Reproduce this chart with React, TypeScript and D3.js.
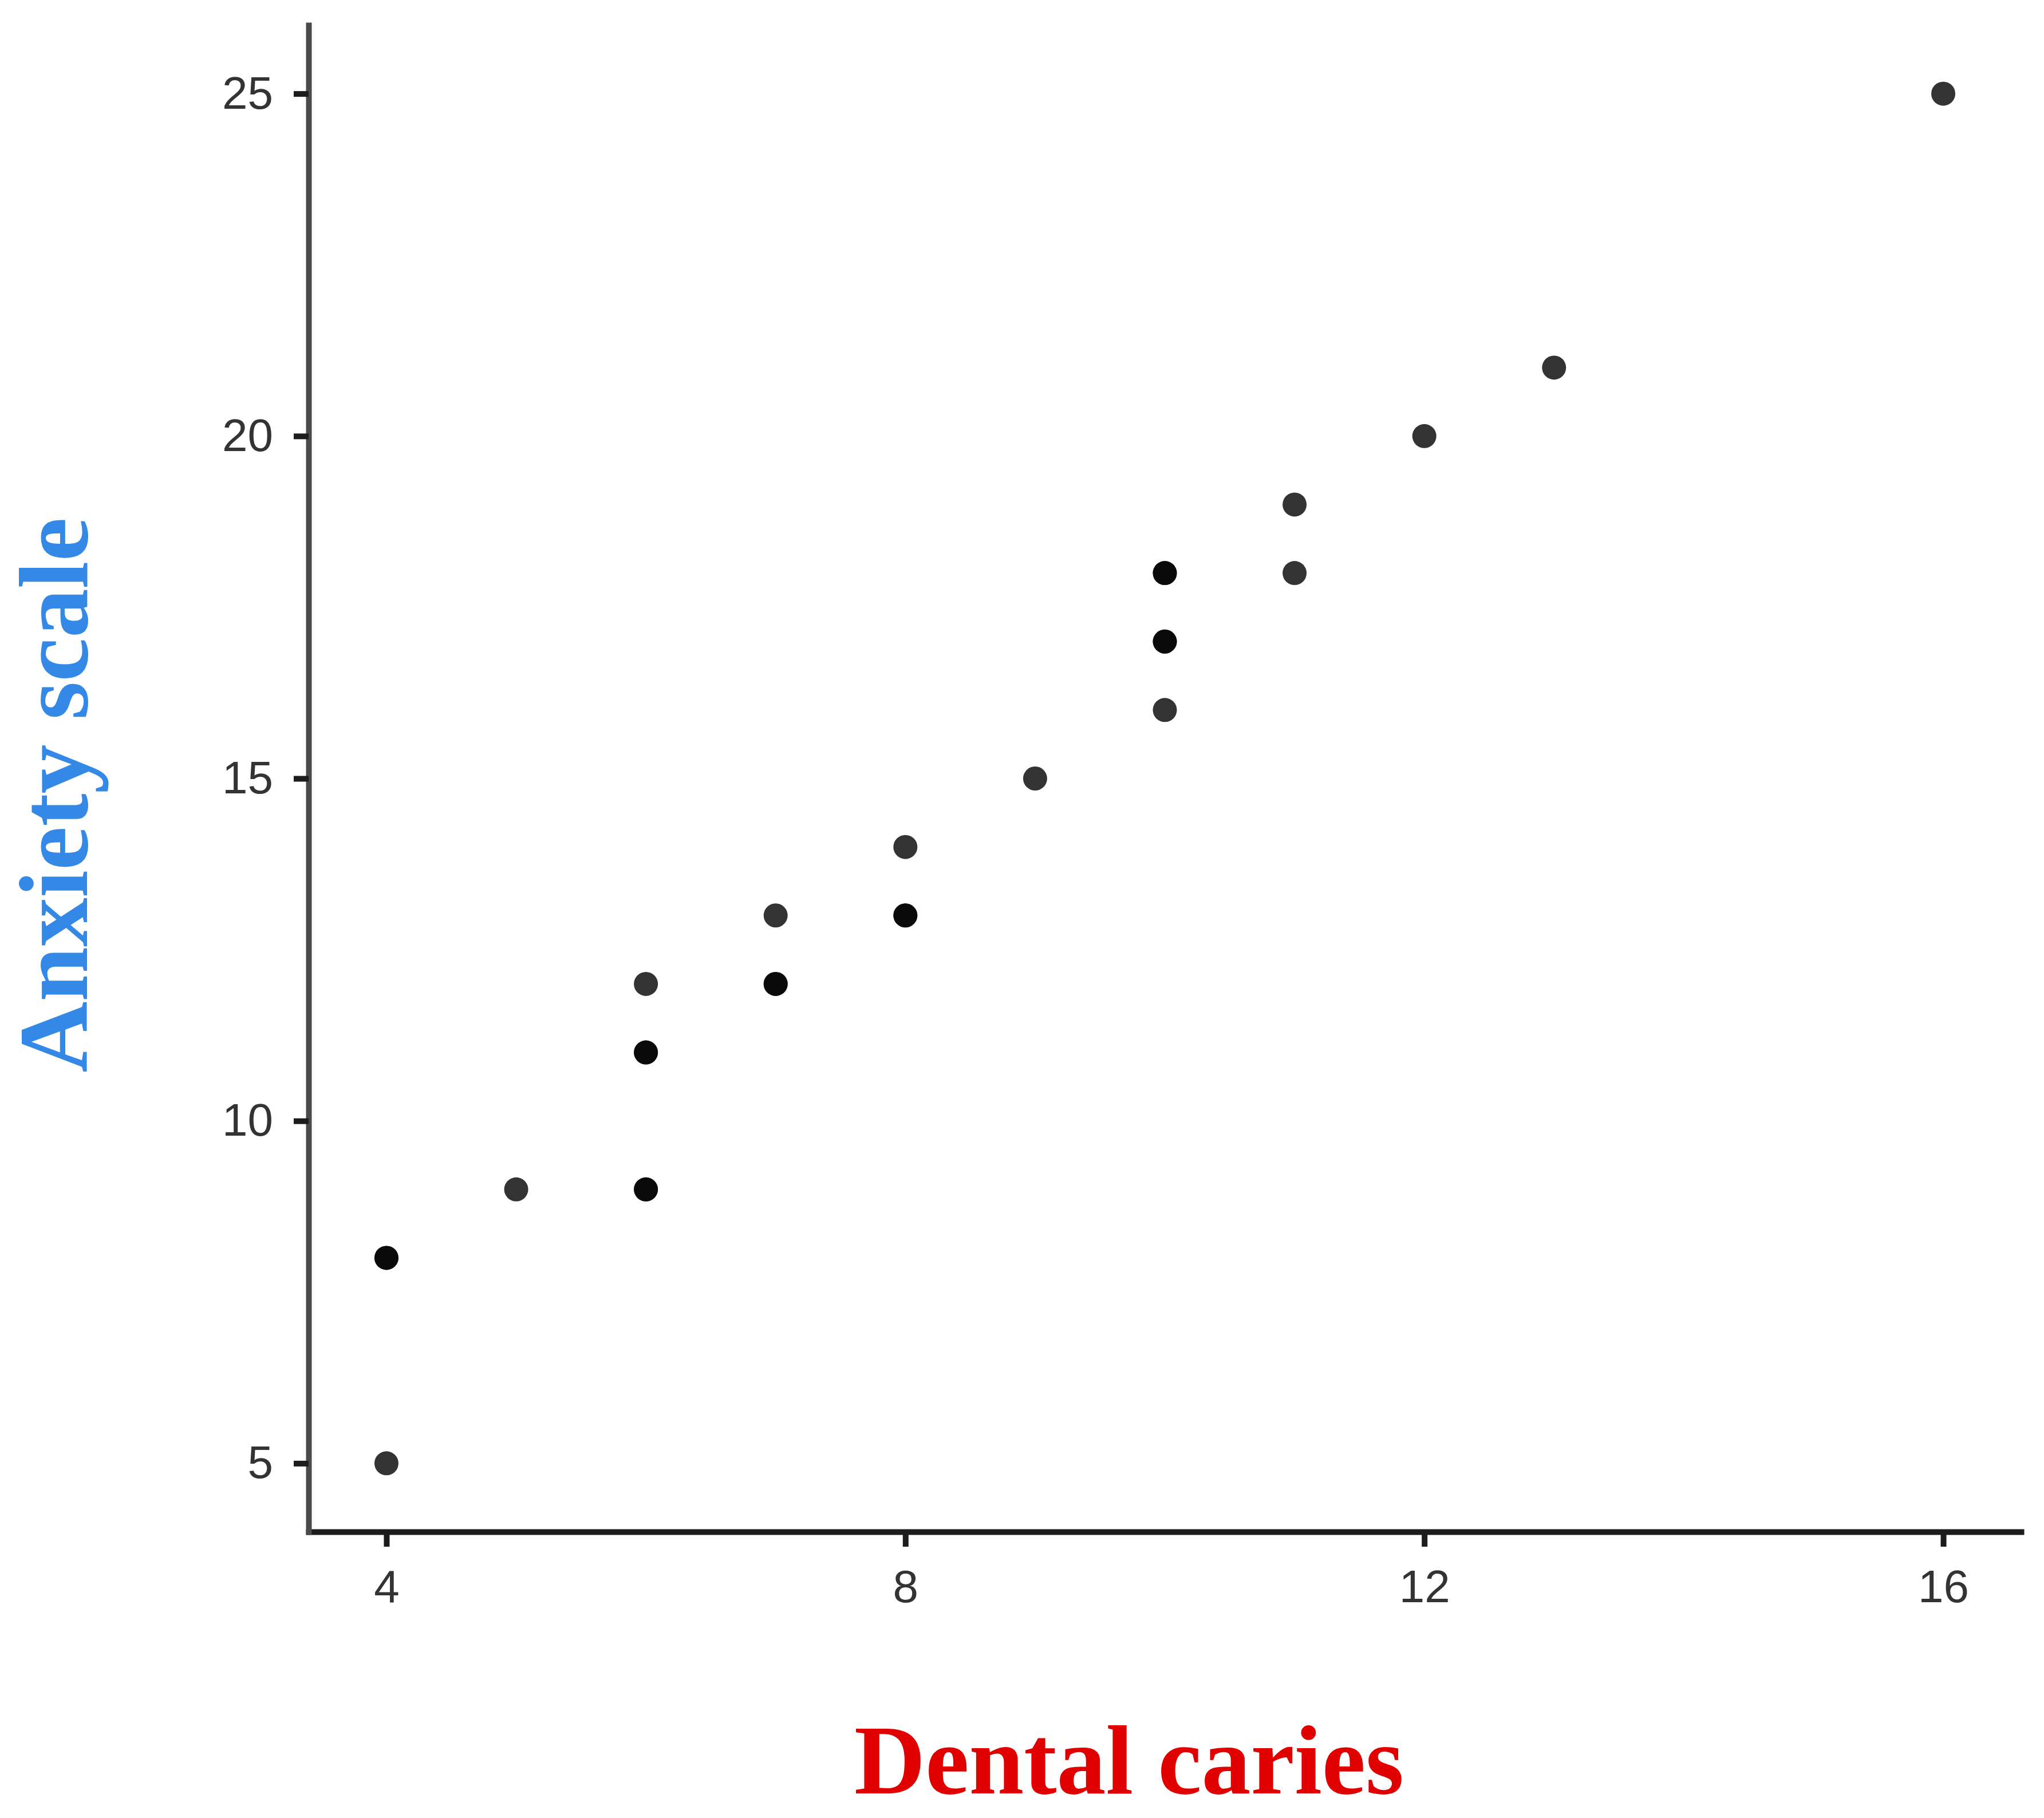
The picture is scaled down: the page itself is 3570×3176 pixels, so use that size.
import { useEffect, useRef } from 'react';
import * as d3 from 'd3';

const W = 3570;
const H = 3176;

// dental caries count / anxiety score (repeated pairs overlap and read darker)
const caries = [4, 4, 4, 5, 6, 6, 6, 6, 6, 7, 7, 7, 8, 8, 8, 9, 10, 10, 10, 10, 10, 11, 11, 12, 13, 16];
const anxiety = [5, 8, 8, 9, 9, 9, 11, 11, 12, 12, 12, 13, 13, 13, 14, 15, 16, 17, 17, 18, 18, 18, 19, 20, 21, 25];

const xTicks = [4, 8, 12, 16];
const yTicks = [5, 10, 15, 20, 25];

const xTitle = 'Dental caries';
const yTitle = 'Anxiety scale';

const App = () => {
  const svgRef = useRef<SVGSVGElement>(null);

  useEffect(() => {
    const svg = d3.select(svgRef.current);
    svg.selectAll('*').remove();

    const x = d3.scaleLinear().domain([3.4, 16.6]).range([539, 3530]);
    const y = d3.scaleLinear().domain([4, 26]).range([2676, 44]);

    const tickFont = '"Liberation Sans", Arial, sans-serif';

    // x axis
    const gx = svg
      .append('g')
      .attr('transform', `translate(0,${y(4)})`)
      .call(d3.axisBottom(x).tickValues(xTicks).tickFormat(d3.format('d')).tickSize(26).tickSizeOuter(0).tickPadding(40));
    gx.select('.domain').attr('stroke', '#1c1c1c').attr('stroke-width', 10).attr('stroke-linecap', 'square');
    gx.selectAll('.tick line').attr('stroke', '#1c1c1c').attr('stroke-width', 10);
    gx.selectAll('.tick text')
      .attr('fill', '#333')
      .style('font-family', tickFont)
      .style('font-size', '80px');

    // y axis
    const gy = svg
      .append('g')
      .attr('transform', `translate(${x(3.4)},0)`)
      .call(d3.axisLeft(y).tickValues(yTicks).tickFormat(d3.format('d')).tickSize(26).tickSizeOuter(0).tickPadding(36));
    gy.select('.domain').attr('stroke', '#4a4a4a').attr('stroke-width', 10).attr('stroke-linecap', 'square');
    gy.selectAll('.tick line').attr('stroke', '#1c1c1c').attr('stroke-width', 10);
    gy.selectAll('.tick text')
      .attr('fill', '#333')
      .style('font-family', tickFont)
      .style('font-size', '80px');

    // points
    const points = caries.map((c, i) => ({ c, a: anxiety[i] }));
    svg
      .append('g')
      .selectAll('circle')
      .data(points)
      .join('circle')
      .attr('cx', d => x(d.c))
      .attr('cy', d => y(d.a))
      .attr('r', 21)
      .attr('fill', '#000')
      .attr('fill-opacity', 0.8);

    // axis titles
    svg
      .append('text')
      .attr('x', 1972)
      .attr('y', 3133)
      .attr('text-anchor', 'middle')
      .attr('fill', '#e00000')
      .style('font-family', '"Liberation Serif", "Times New Roman", serif')
      .style('font-weight', 'bold')
      .style('font-size', '172px')
      .text(xTitle);

    svg
      .append('text')
      .attr('transform', `translate(152,1389) rotate(-90)`)
      .attr('text-anchor', 'middle')
      .attr('fill', '#3589e6')
      .style('font-family', '"Liberation Serif", "Times New Roman", serif')
      .style('font-weight', 'bold')
      .style('font-size', '172px')
      .text(yTitle);
  }, []);

  return (
    <svg
      ref={svgRef}
      width={W}
      height={H}
      style={{ position: 'absolute', left: 0, top: 0, background: '#fff' }}
    />
  );
};

export default App;
